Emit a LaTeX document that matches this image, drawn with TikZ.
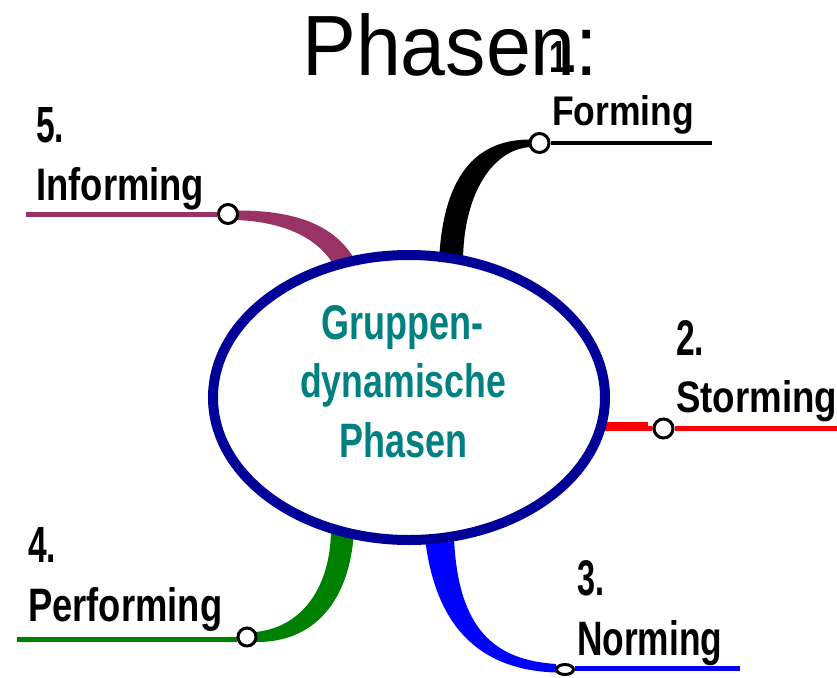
\documentclass[tikz,border=0pt]{standalone}
\usepackage{fontspec}
\setmainfont{Liberation Sans}
\usepackage{graphicx}
\usetikzlibrary{shapes.geometric,backgrounds}
\definecolor{navy}{RGB}{0,0,153}
\definecolor{tealtext}{RGB}{0,128,128}
\definecolor{plum}{RGB}{153,51,102}
\definecolor{leaf}{RGB}{0,128,0}
\definecolor{pureblue}{RGB}{0,0,255}
\definecolor{purered}{RGB}{255,0,0}
% scale a piece of text to a given width and cap height
\newcommand\fitbox[3]{\resizebox{#1}{#2}{#3}}
\begin{document}
\begin{tikzpicture}[x=1pt,y=-1pt,
  lbl/.style={anchor=base west, inner sep=0pt, font=\bfseries},
  titletext/.style={anchor=base west, inner sep=0pt, font=\normalfont},
  coretext/.style={anchor=base west, inner sep=0pt, font=\bfseries, text=tealtext},
  knob/.style={circle, draw=black, line width=3pt, fill=white, inner sep=0pt, minimum size=19pt},
  branch/.style={line width=5pt}]
\useasboundingbox (0,0) rectangle (837,677);

% central ellipse
\node[draw=navy, line width=10pt, ellipse, minimum width=392pt, minimum height=285pt, inner sep=0pt] (core) at (409,397.5) {};

% small rings at the ends of the branches
\node[knob] (kF) at (539.5,143) {};
\node[knob] (kI) at (228,214) {};
\node[knob] (kS) at (663.5,428.5) {};
\node[knob, minimum size=18pt] (kP) at (247,637) {};
\node[knob, ellipse, minimum width=17pt, minimum height=10pt] (kN) at (565,669.5) {};

% free ends of the label lines
\coordinate (endF) at (712,143);
\coordinate (endI) at (26,214);
\coordinate (endS) at (837,428.5);
\coordinate (endP) at (17,639.5);
\coordinate (endN) at (740,668);

\begin{pgfonlayer}{background}
  % label lines
  \draw[branch, black, line width=4.5pt] (kF.east) -- (endF);
  \draw[branch, plum] (kI.west) -- (endI);
  \draw[branch, purered, line width=4.7pt] (kS.east) -- (endS);
  \draw[branch, leaf] (endP) -- (kP.west |- endP);
  \draw[branch, pureblue] (kN.east |- endN) -- (endN);

  % tapered stems from the ellipse to the rings
  \fill[black] (530,139.5) .. controls (482,139.5) and (443,168) .. (439,262)
    -- (463,262) .. controls (463,198) and (490,150) .. (530,147) -- cycle;
  \fill[plum] (236,210.5) .. controls (300,210) and (338,228) .. (356,262)
    -- (333,264) .. controls (320,242) and (290,222) .. (236,220) -- cycle;
  \fill[leaf] (255,632) .. controls (300,628) and (330,590) .. (331,531)
    -- (354,531) .. controls (350,600) and (315,643) .. (255,642) -- cycle;
  \fill[pureblue] (425,538) .. controls (435,625) and (478,670) .. (556,672.5)
    -- (556,664) .. controls (495,660) and (458,630) .. (454,538) -- cycle;
  \draw[purered, line width=8.5pt] (603,426.5) -- (648,426.5);
  \draw[purered, line width=5pt] (640,428) -- (kS.west);
\end{pgfonlayer}

% heading
\node[titletext] (title) at (302,75) {\fitbox{296pt}{62pt}{Phasen:}};

% phase labels
\node[lbl] (n1) at (549,73) {\fitbox{27pt}{31pt}{1.}};
\node[lbl] (lF) at (552,125) {\fitbox{142pt}{30pt}{Forming}};
\node[lbl] (n2) at (676,355) {\fitbox{28pt}{35pt}{2.}};
\node[lbl] (lS) at (676,412) {\fitbox{161pt}{32pt}{Storming}};
\node[lbl] (n3) at (577,595) {\fitbox{27pt}{35pt}{3.}};
\node[lbl] (lN) at (577,655) {\fitbox{145pt}{35pt}{Norming}};
\node[lbl] (n4) at (28,562) {\fitbox{28pt}{35pt}{4.}};
\node[lbl] (lP) at (28,621) {\fitbox{194pt}{34pt}{Performing}};
\node[lbl] (n5) at (36,142) {\fitbox{28pt}{35pt}{5.}};
\node[lbl] (lI) at (36,200) {\fitbox{168pt}{33pt}{Informing}};

% text inside the ellipse
\node[coretext] (g1) at (321,339) {\fitbox{162pt}{34pt}{Gruppen-}};
\node[coretext] (g2) at (300,397) {\fitbox{206pt}{34pt}{dynamische}};
\node[coretext] (g3) at (339,457) {\fitbox{128pt}{35pt}{Phasen}};
\end{tikzpicture}
\end{document}
